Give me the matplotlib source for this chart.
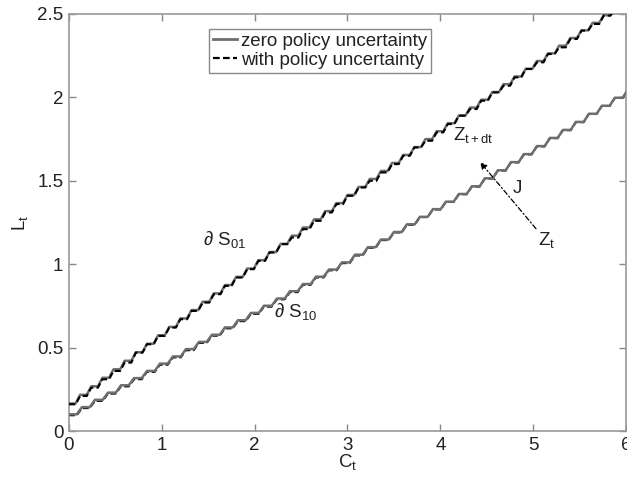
import numpy as np
import matplotlib
matplotlib.use("Agg")
import matplotlib.pyplot as plt
from matplotlib.lines import Line2D

plt.rcParams['font.family'] = ['Liberation Sans', 'DejaVu Sans']
plt.rcParams['mathtext.fontset'] = 'custom'
plt.rcParams['mathtext.rm'] = 'Liberation Sans'
plt.rcParams['mathtext.it'] = 'Liberation Sans'
plt.rcParams['mathtext.default'] = 'rm'

# step levels of the boundaries (L value of each flat part of the staircase)
upper_step = 0.12
upper_zero = [0.165, 0.217, 0.268, 0.319, 0.370, 0.421, 0.472, 0.523, 0.574, 0.624,
              0.675, 0.725, 0.775, 0.825, 0.875, 0.924, 0.974, 1.024, 1.073, 1.122,
              1.171, 1.220, 1.269, 1.318, 1.366, 1.415, 1.463, 1.511, 1.559, 1.607,
              1.655, 1.702, 1.750, 1.797, 1.845, 1.892, 1.939, 1.986, 2.032, 2.079,
              2.125, 2.172, 2.218, 2.264, 2.310, 2.356, 2.402, 2.447, 2.493, 2.538, 2.579]
upper_policy = [0.16, 0.21, 0.26, 0.31, 0.36, 0.41, 0.47, 0.52, 0.57, 0.62,
                0.67, 0.72, 0.77, 0.82, 0.87, 0.92, 0.97, 1.02, 1.07, 1.12,
                1.16, 1.21, 1.26, 1.31, 1.36, 1.41, 1.46, 1.50, 1.55, 1.60,
                1.65, 1.70, 1.74, 1.79, 1.84, 1.89, 1.93, 1.98, 2.03, 2.07,
                2.12, 2.17, 2.21, 2.26, 2.30, 2.35, 2.40, 2.44, 2.49, 2.53, 2.58]

lower_step = 0.14
lower_zero = [0.100, 0.143, 0.187, 0.230, 0.274, 0.317, 0.360, 0.404, 0.447, 0.491,
              0.534, 0.577, 0.621, 0.664, 0.708, 0.751, 0.794, 0.838, 0.881, 0.925,
              0.968, 1.011, 1.057, 1.102, 1.148, 1.193, 1.239, 1.284, 1.330, 1.375,
              1.421, 1.467, 1.515, 1.563, 1.612, 1.660, 1.708, 1.757, 1.805, 1.853,
              1.902, 1.950, 1.998, 2.047]
lower_policy = [0.094, 0.137, 0.180, 0.224, 0.267, 0.310, 0.354, 0.397, 0.441, 0.484,
                0.528, 0.571, 0.615, 0.658, 0.702, 0.745, 0.789, 0.832, 0.876, 0.920,
                0.963, 1.006, 1.052, 1.098, 1.144, 1.190, 1.236, 1.282, 1.328, 1.373,
                1.419, 1.465, 1.513, 1.561, 1.610, 1.658, 1.706, 1.755, 1.803, 1.851,
                1.900, 1.948, 1.996, 2.045]

x_ticks = [0, 1, 2, 3, 4, 5, 6]
y_ticks = [0, 0.5, 1, 1.5, 2, 2.5]
y_tick_labels = ['0', '0.5', '1', '1.5', '2', '2.5']

# arrow from Z_t to Z_t+dt
arrow_start = (5.05, 1.20)
arrow_end = (4.41, 1.625)


def stairs(dx, levels, flat=0.6):
    xs, ys = [], []
    for i, lv in enumerate(levels):
        xs += [i * dx, i * dx + flat * dx]
        ys += [lv, lv]
    return xs, ys


fig = plt.figure(figsize=(6.27, 4.79), dpi=100)
ax = fig.add_axes([0.110, 0.1002, 0.8884, 0.8706])

gray = '#6e6e6e'
x, y = stairs(lower_step, lower_policy)
ax.plot(x, y, color='black', lw=1.4, ls=(0, (3, 1.5)), zorder=2)
x, y = stairs(lower_step, lower_zero)
ax.plot(x, y, color=gray, lw=1.8, zorder=3)
x, y = stairs(upper_step, upper_zero)
ax.plot(x, y, color=gray, lw=1.8, zorder=3)
x, y = stairs(upper_step, upper_policy)
ax.plot(x, y, color='black', lw=1.5, ls=(0, (3, 1.5)), zorder=4)

ax.annotate('', xy=arrow_end, xytext=arrow_start,
            arrowprops=dict(arrowstyle='-|>', color='black', lw=0.9,
                            linestyle=(0, (4, 2, 1, 2)), mutation_scale=10))

txt = dict(fontsize=13.5, color='#222222')
ax.text(1.44, 1.114, '∂ S$_{01}$', **txt)
ax.text(2.21, 0.682, '∂ S$_{10}$', **txt)
ax.text(4.14, 1.744, 'Z$_{t+dt}$', **txt)
ax.text(4.78, 1.425, 'J', **txt)
ax.text(5.05, 1.113, 'Z$_{t}$', **txt)

ax.set_xlim(0, 6)
ax.set_ylim(0, 2.5)
ax.set_xticks(x_ticks)
ax.set_yticks(y_ticks)
ax.set_yticklabels(y_tick_labels)
ax.tick_params(direction='in', top=True, right=True, length=5, width=1,
               color='#888888', labelsize=13.5, labelcolor='#222222', pad=4)
for sp in ax.spines.values():
    sp.set_color('#999999')
    sp.set_linewidth(1.2)

ax.set_xlabel('C$_t$', fontsize=13.5, color='#222222', labelpad=-1)
ax.set_ylabel('L$_t$', fontsize=13.5, color='#222222', labelpad=5)

handles = [Line2D([], [], color=gray, lw=2),
           Line2D([], [], color='black', lw=1.6, ls=(0, (3, 1.5)))]
leg = ax.legend(handles, ['zero policy uncertainty', 'with policy uncertainty'],
                loc='upper left', bbox_to_anchor=(0.251, 0.964), borderaxespad=0,
                fontsize=13.5, fancybox=False, framealpha=1, edgecolor='#888888',
                handlelength=1.3, handletextpad=0.2, borderpad=0.2, labelspacing=0.1)
leg.get_frame().set_linewidth(1.0)
for t in leg.get_texts():
    t.set_color('#222222')

fig.savefig('out.png', dpi=100)
